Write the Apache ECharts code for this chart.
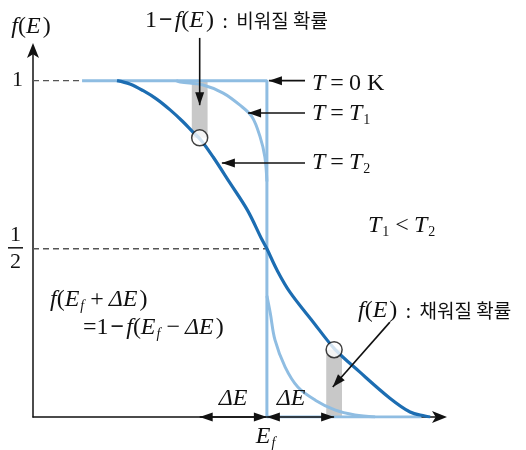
<!DOCTYPE html>
<html>
<head>
<meta charset="utf-8">
<script src="https://cdn.jsdelivr.net/npm/echarts@6/dist/echarts.min.js"></script>
<style>
  html, body { margin: 0; padding: 0; background: #fff; }
  #chart { width: 526px; height: 450px; }
</style>
</head>
<body>
<div id="chart"></div>
<script>
// Energy axis: units of ΔE measured from the Fermi level E_f (E_f = 0)
const E_MIN = -3.48;
const E_MAX = 2.62;
const F_MAX = 1.1;

// f(E) at T = T2 (broad curve)
const t2E = [-2.23, -2.04, -1.84, -1.64, -1.44, -1.26, -1.10, -0.98, -0.80, -0.55, -0.29, -0.07, 0, 0.15, 0.34, 0.69, 1.01, 1.38, 1.83, 2.13, 2.35, 2.43];
const t2F = [1.0, 0.99, 0.97, 0.945, 0.913, 0.88, 0.847, 0.823, 0.773, 0.696, 0.615, 0.526, 0.5, 0.437, 0.372, 0.282, 0.202, 0.134, 0.056, 0.015, 0.003, 0];

// f(E) at T = T1, the part above E_f and the part below
const t1UpperE = [-1.35, -1.29, -0.95, -0.65, -0.40, -0.22, -0.10, -0.03, 0];
const t1UpperF = [1.0, 0.996, 0.987, 0.963, 0.927, 0.892, 0.832, 0.773, 0.70];
const t1LowerE = [0, 0.05, 0.12, 0.27, 0.46, 0.72, 1.01, 1.31, 1.61];
const t1LowerF = [0.36, 0.309, 0.229, 0.149, 0.089, 0.05, 0.021, 0.006, 0];

// f(E) at T = 0 K (step)
const t0E = [-2.75, 0, 0, 2.3];
const t0F = [1, 1, 0, 0];

// sampled states at E_f − ΔE and E_f + ΔE on the T2 curve
const probeE = [-1, 1];
const probeF = [0.83, 0.2];

// shaded probabilities: 1 − f(E) above the first state, f(E) below the second
const shadeE = [-1, 1];
const shadeLow = [0.83, 0];
const shadeHigh = [1, 0.2];

// dashed reference levels and where they stop
const refLevels = [1, 0.5];
const refEnds = [-2.75, 0];

// y-axis tick labels
const yTickValues = [1, 0.5];

const DARK = '#1c6db2';
const LIGHT = '#8fbde2';
const SHADE = '#c8c8c8';
const INK = '#111';
const SERIF = '"Liberation Serif", "Times New Roman", serif';
const KR = '"Noto Sans CJK KR", "Noto Sans", sans-serif';

function pairs(xs, ys) { return xs.map((x, i) => [x, ys[i]]); }

function richFor(size) {
  const sub = Math.round(size * 0.6);
  const gap = Math.round(size * 0.2);
  return {
    i: { fontFamily: SERIF, fontStyle: 'italic', fontSize: size, color: INK },
    r: { fontFamily: SERIF, fontSize: size, color: INK },
    p: { fontFamily: SERIF, fontSize: size, color: INK, padding: [0, 0, 0, 2] },
    o: { fontFamily: SERIF, fontSize: size, color: INK, padding: [0, gap, 0, gap] },
    m: { fontFamily: SERIF, fontSize: size, fontWeight: 'bold', color: INK, padding: [0, 2, 0, 2] },
    s: { fontFamily: SERIF, fontSize: sub, color: INK, padding: [Math.round(size * 0.55), 1, 0, 1] },
    si: { fontFamily: SERIF, fontStyle: 'italic', fontSize: sub, color: INK, padding: [Math.round(size * 0.55), 1, 0, 1] },
    k: { fontFamily: KR, fontSize: Math.round(size * 0.8), color: '#222' }
  };
}

const chart = echarts.init(document.getElementById('chart'), null, { renderer: 'canvas' });

const lineBase = { type: 'line', showSymbol: false, symbol: 'none', silent: true, animation: false };

chart.setOption({
  animation: false,
  grid: { left: 33, right: 83, top: 47, bottom: 33 },
  xAxis: {
    type: 'value', min: E_MIN, max: E_MAX,
    axisLine: { show: true, onZero: false, symbol: ['none', 'arrow'], symbolSize: [9, 15], symbolOffset: [0, 4],
      lineStyle: { color: INK, width: 1.5 } },
    axisTick: { show: false }, axisLabel: { show: false }, splitLine: { show: false }
  },
  yAxis: {
    type: 'value', min: 0, max: F_MAX, interval: 0.5,
    axisLine: { show: true, onZero: false, symbol: ['none', 'arrow'], symbolSize: [9, 15], symbolOffset: [0, 4],
      lineStyle: { color: INK, width: 1.5 } },
    axisTick: { show: false }, splitLine: { show: false },
    axisLabel: {
      margin: 10,
      formatter: v => {
        if (Math.abs(v - yTickValues[0]) < 1e-9) return '{r|1}';
        if (Math.abs(v - yTickValues[1]) < 1e-9) return '{n|1}\n{b|}\n{d|2}';
        return '';
      },
      rich: {
        r: { fontFamily: SERIF, fontSize: 22, color: INK },
        n: { fontFamily: SERIF, fontSize: 22, color: INK, lineHeight: 20, align: 'center' },
        b: { width: 15, height: 1.5, lineHeight: 6, backgroundColor: INK, align: 'center' },
        d: { fontFamily: SERIF, fontSize: 22, color: INK, lineHeight: 22, align: 'center' }
      }
    }
  },
  series: [
    {
      type: 'custom', z: 1, silent: true,
      data: shadeE.map((e, i) => [e, shadeLow[i], shadeHigh[i]]),
      renderItem: (params, api) => {
        const top = api.coord([api.value(0), api.value(2)]);
        const bot = api.coord([api.value(0), api.value(1)]);
        const w = api.size([0.235, 0])[0];
        return { type: 'rect', shape: { x: top[0] - w / 2, y: top[1], width: w, height: bot[1] - top[1] },
          style: { fill: SHADE } };
      }
    },
    ...refLevels.map((lv, i) => Object.assign({}, lineBase, {
      z: 2, data: [[E_MIN, lv], [refEnds[i], lv]],
      lineStyle: { color: '#555', width: 1.4, type: [6, 4] }
    })),
    Object.assign({}, lineBase, { z: 3, data: pairs(t0E, t0F), lineStyle: { color: LIGHT, width: 3 } }),
    Object.assign({}, lineBase, { z: 3, data: pairs(t1UpperE, t1UpperF), smooth: 0.35, lineStyle: { color: LIGHT, width: 3 } }),
    Object.assign({}, lineBase, { z: 3, data: pairs(t1LowerE, t1LowerF), smooth: 0.35, lineStyle: { color: LIGHT, width: 3 } }),
    Object.assign({}, lineBase, { z: 4, data: pairs(t2E, t2F), smooth: 0.35, lineStyle: { color: DARK, width: 3.2 } }),
    {
      type: 'scatter', z: 6, silent: true, symbol: 'circle', symbolSize: 16,
      data: pairs(probeE, probeF),
      itemStyle: { color: '#fff', borderColor: INK, borderWidth: 1.5 }
    }
  ]
});

// ---- annotations: arrows anchored in data coordinates, text labels ----
const px = (e, f) => chart.convertToPixel({ gridIndex: 0 }, [e, f]);

function arrowHead(tip, from, len, half) {
  const dx = tip[0] - from[0], dy = tip[1] - from[1];
  const d = Math.hypot(dx, dy) || 1;
  const ux = dx / d, uy = dy / d;
  const bx = tip[0] - ux * len, by = tip[1] - uy * len;
  return {
    type: 'polygon', z: 20,
    shape: { points: [tip, [bx - uy * half, by + ux * half], [bx + uy * half, by - ux * half]] },
    style: { fill: INK }
  };
}

function arrow(fromData, toData, twoHeads) {
  const a = px(fromData[0], fromData[1]);
  const b = px(toData[0], toData[1]);
  const els = [{ type: 'line', z: 19, shape: { x1: a[0], y1: a[1], x2: b[0], y2: b[1] }, style: { stroke: INK, lineWidth: 1.6 } },
               arrowHead(b, a, 13, 4.5)];
  if (twoHeads) els.push(arrowHead(a, b, 13, 4.5));
  return els;
}

function label(x, y, text, size, align) {
  return {
    type: 'text', z: 30, x: x, y: y,
    style: { text: text, rich: richFor(size), textAlign: align || 'left', textVerticalAlign: 'middle', fill: INK }
  };
}

const graphics = [].concat(
  arrow([-1, 1.127], [-1, 0.927]),
  arrow([0.567, 1.0], [0.03, 1.0]),
  arrow([0.567, 0.904], [-0.28, 0.904]),
  arrow([0.567, 0.755], [-0.67, 0.755]),
  arrow([1.83, 0.282], [0.98, 0.089]),
  arrow([-1, 0], [0, 0], true),
  arrow([0, 0], [1, 0], true),
  [
    label(31, 27, '{i|f}{r|(}{i|E}{p|)}', 24, 'center'),
    label(145, 21, '{r|1}{m|−}{i|f}{r|(}{i|E}{p|)}{k|  :  비워질 확률}', 24),
    label(312, 84, '{i|T}{o|=}{r|0 K}', 24),
    label(312, 114, '{i|T}{o|=}{i|T}{s|1}', 24),
    label(312, 163, '{i|T}{o|=}{i|T}{s|2}', 24),
    label(368, 226, '{i|T}{s|1}{o|<}{i|T}{s|2}', 24),
    label(50, 300, '{i|f}{r|(}{i|E}{si|f}{o|+}{i|ΔE}{p|)}', 24),
    label(83, 328, '{r|=1}{m|−}{i|f}{r|(}{i|E}{si|f}{o|−}{i|ΔE}{p|)}', 24),
    label(358, 311, '{i|f}{r|(}{i|E}{p|)}{k|  :  채워질 확률}', 24),
    label(233, 399, '{i|ΔE}', 24, 'center'),
    label(291, 399, '{i|ΔE}', 24, 'center'),
    label(266, 437, '{i|E}{si|f}', 24, 'center')
  ]
);

chart.setOption({ graphic: { elements: graphics } });
</script>
</body>
</html>
